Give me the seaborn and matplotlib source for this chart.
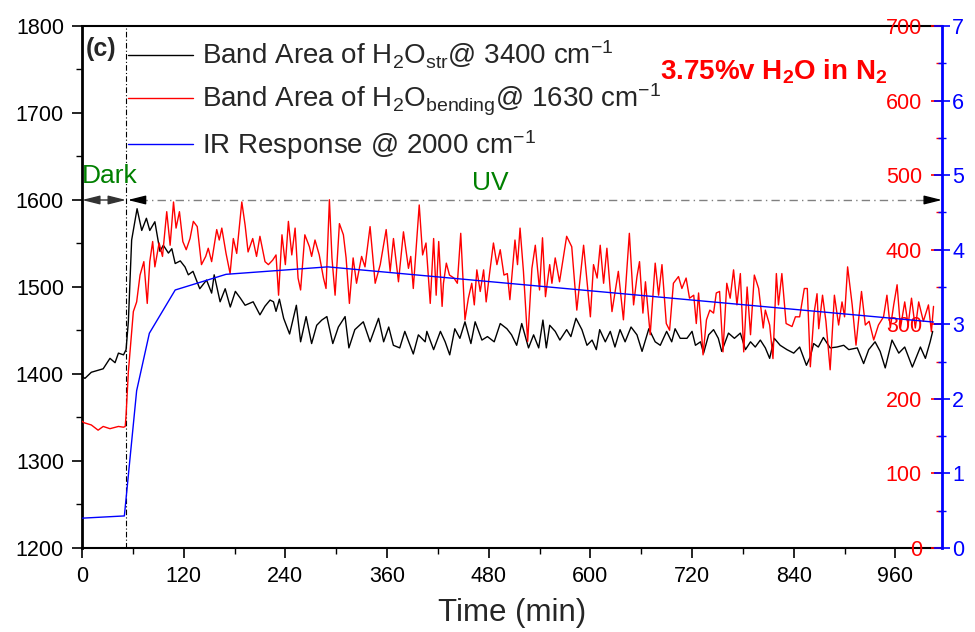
import matplotlib
matplotlib.use("Agg")
import matplotlib.pyplot as plt
import seaborn as sns
import numpy as np
import pandas as pd
from matplotlib.ticker import MultipleLocator

# ---------------- data ----------------
# Band area of H2O stretching @ 3400 cm-1 (left axis)
str_t = [0, 3.5, 11, 18, 25, 33, 39, 43, 49, 52, 54.7, 58.6, 65, 70.5, 76, 80, 86, 92, 96, 102,
         106, 110, 116, 121.6, 125.5, 131, 139, 147, 153, 156, 163, 169, 175, 181, 187, 192.5, 202, 210, 216, 222,
         226, 229, 233, 238, 245, 253, 258, 264.5, 271, 277, 283, 289, 296, 302.6, 310.5, 315, 322, 332, 340, 350,
         356, 362, 367.5, 375, 381, 391, 397, 405, 407, 415, 423, 428.6, 434, 440, 446, 452, 459, 464, 472, 478.5,
         486.5, 493.6, 501.5, 507, 513, 519, 527, 533, 539, 544, 548, 552, 558.5, 564, 572, 577, 583, 590, 596, 602,
         607, 611, 617.6, 623.5, 629, 635, 641, 648, 655, 661, 669, 676.5, 682.5, 690, 696, 700, 706, 714, 720, 724,
         730, 733.6, 739.6, 745.4, 751, 755, 763, 770, 777, 783, 789, 794.6, 800.6, 806.5, 811.6, 817, 824, 832, 840, 847,
         855, 859.6, 863.5, 869, 875, 883, 891, 899, 905, 915, 922.5, 928.5, 936, 942, 948, 956, 964, 971, 980, 989.5,
         995.4, 1001, 1004]
str_v = [1397, 1395, 1402, 1404, 1406, 1418, 1413, 1424, 1422, 1428, 1460, 1554, 1590, 1565, 1579, 1565, 1575, 1541, 1548, 1539,
         1544, 1527, 1530, 1523, 1514, 1518, 1498, 1508, 1493, 1514, 1483, 1498, 1477, 1495, 1487, 1479, 1483, 1468, 1478, 1485,
         1483, 1472, 1486, 1464, 1446, 1479, 1437, 1466, 1435, 1456, 1462, 1466, 1435, 1454, 1466, 1430, 1451, 1460, 1437, 1464,
         1437, 1454, 1433, 1430, 1449, 1423, 1445, 1437, 1449, 1428, 1449, 1437, 1422, 1452, 1441, 1460, 1435, 1460, 1439, 1443,
         1437, 1458, 1452, 1445, 1433, 1458, 1430, 1445, 1430, 1462, 1430, 1456, 1449, 1439, 1451, 1443, 1464, 1451, 1433, 1439,
         1428, 1451, 1437, 1449, 1431, 1451, 1437, 1454, 1445, 1426, 1452, 1437, 1433, 1449, 1437, 1452, 1441, 1441, 1449, 1433,
         1437, 1424, 1445, 1451, 1441, 1426, 1447, 1441, 1447, 1428, 1437, 1431, 1439, 1430, 1418, 1441, 1433, 1428, 1424, 1431,
         1410, 1420, 1435, 1431, 1442, 1430, 1431, 1433, 1428, 1430, 1412, 1428, 1437, 1426, 1407, 1439, 1424, 1431, 1408, 1431,
         1418, 1437, 1449]

# Band area of H2O bending @ 1630 cm-1 (red axis)
bend_t = [0, 2.4, 11, 19, 25, 33, 43, 49, 51, 52, 54.7, 60.6, 64.5, 68.5, 73, 77, 80, 83.4, 86, 91,
          95, 100, 104, 108, 111, 115, 119, 123, 127.5, 131.4, 136, 141, 146, 149, 153, 159, 162, 165, 170, 174.8,
          178.6, 182.6, 188.6, 192.5, 196, 201.5, 206, 210, 216, 220, 225, 229, 232, 236, 240, 243.6, 247.6, 251.5, 255, 258,
          263, 268.4, 271, 275, 280, 285, 288, 292, 295, 298.7, 303.8, 308.5, 311.7, 315.6, 320, 324, 330, 334, 340, 346,
          352, 359, 363.7, 367.6, 373.5, 379.4, 385.3, 388, 391, 398, 402, 406, 411, 415, 418, 421, 425, 426.6, 430, 433.7,
          439, 443, 447, 452, 456, 460, 463, 466, 470, 474, 477, 481, 485.6, 489.7, 493.6, 498, 502, 505, 511, 514,
          517, 521, 526, 531, 535, 540, 543.5, 547, 552, 554.6, 558.5, 563.6, 572, 578, 584, 592, 600, 603.7, 608, 611.6,
          615.6, 619.5, 625.5, 633, 639, 646, 651, 655, 658, 662, 665, 670.6, 676.5, 680.5, 684.5, 689.6, 693.5, 698, 704, 708,
          713, 717, 722, 725, 727.7, 733, 737, 741, 745.4, 748.6, 752.5, 756.5, 761, 765, 769, 773, 777, 781, 785, 789,
          793.5, 798.6, 804, 806.5, 811.6, 815.5, 819.5, 822, 826, 831, 838, 842, 847, 852.5, 856, 859.6, 864, 867.5, 869.5, 874,
          878, 883, 888, 893, 897, 900, 903.6, 909, 913.5, 920, 924.5, 929, 934.4, 940, 946, 950, 954, 958, 962, 966,
          971, 975, 979, 983.5, 987.5, 993, 999, 1002.5, 1005]
bend_v = [170, 168, 165, 158, 163, 160, 163, 162, 163, 178, 236, 317, 330, 366, 384, 328, 384, 411, 377, 409,
          391, 451, 406, 464, 429, 451, 411, 400, 415, 438, 431, 380, 391, 402, 384, 427, 413, 429, 395, 368,
          415, 395, 464, 433, 397, 415, 391, 418, 384, 380, 386, 393, 339, 420, 380, 438, 393, 429, 362, 346,
          420, 404, 391, 413, 393, 362, 348, 467, 389, 339, 435, 420, 389, 328, 389, 355, 391, 377, 431, 355,
          380, 427, 371, 415, 357, 424, 375, 391, 348, 460, 393, 409, 328, 415, 339, 411, 324, 355, 382, 366,
          362, 355, 422, 306, 335, 355, 326, 373, 344, 373, 330, 368, 409, 380, 400, 366, 368, 333, 413, 380,
          429, 371, 277, 375, 406, 346, 416, 337, 380, 355, 389, 357, 418, 404, 319, 406, 310, 380, 362, 406,
          355, 402, 317, 371, 306, 422, 326, 364, 384, 315, 357, 286, 382, 339, 380, 301, 292, 355, 364, 348,
          362, 335, 339, 301, 342, 259, 306, 319, 315, 342, 344, 263, 355, 335, 373, 326, 368, 263, 350, 286,
          366, 348, 295, 319, 299, 254, 368, 326, 368, 301, 297, 310, 310, 348, 348, 243, 315, 341, 294, 339,
          304, 239, 339, 299, 330, 310, 377, 326, 272, 344, 299, 304, 279, 299, 310, 339, 295, 326, 353, 295,
          330, 299, 335, 295, 330, 304, 326, 290, 324]

# IR response @ 2000 cm-1 (blue axis)
ir_t = [0, 50, 64.5, 79.5, 110, 170, 290, 1005]
ir_v = [0.40, 0.43, 2.11, 2.88, 3.46, 3.67, 3.77, 3.03]

labels = ["Band Area of H$_2$O$_{\\mathrm{str}}$@ 3400 cm$^{-1}$",
          "Band Area of H$_2$O$_{\\mathrm{bending}}$@ 1630 cm$^{-1}$",
          "IR Response @ 2000 cm$^{-1}$"]
x_ticks = [0, 120, 240, 360, 480, 600, 720, 840, 960]
uv_on = 52

# ---------------- style ----------------
sns.set_style("ticks")
plt.rcParams["font.family"] = ["Liberation Sans", "DejaVu Sans"]
plt.rcParams["mathtext.fontset"] = "custom"
plt.rcParams["mathtext.rm"] = "Liberation Sans"
plt.rcParams["mathtext.it"] = "Liberation Sans:italic"
plt.rcParams["mathtext.bf"] = "Liberation Sans:bold"

fig = plt.figure(figsize=(9.75, 6.32), dpi=100)
ax = fig.add_axes([82 / 975, 1 - 548 / 632, 860 / 975, 522 / 632])
ax2 = ax.twinx()
ax3 = ax.twinx()

df_s = pd.DataFrame({"t": str_t, "v": str_v})
df_b = pd.DataFrame({"t": bend_t, "v": bend_v})
df_i = pd.DataFrame({"t": ir_t, "v": ir_v})
sns.lineplot(data=df_s, x="t", y="v", ax=ax, color="black", lw=1.0, sort=False, estimator=None)
sns.lineplot(data=df_b, x="t", y="v", ax=ax2, color="red", lw=1.0, sort=False, estimator=None)
sns.lineplot(data=df_i, x="t", y="v", ax=ax3, color="blue", lw=1.0, sort=False, estimator=None)

for a in (ax, ax2, ax3):
    a.set_xlabel("")
    a.set_ylabel("")
    a.set_xlim(0, 1015)

ax.set_ylim(1200, 1800)
ax2.set_ylim(0, 700)
ax3.set_ylim(0, 7)

ax.set_xticks(x_ticks)
ax.xaxis.set_minor_locator(MultipleLocator(60))
ax.yaxis.set_major_locator(MultipleLocator(100))
ax.yaxis.set_minor_locator(MultipleLocator(50))
ax2.yaxis.set_major_locator(MultipleLocator(100))
ax2.yaxis.set_minor_locator(MultipleLocator(50))
ax3.yaxis.set_major_locator(MultipleLocator(1))
ax3.yaxis.set_minor_locator(MultipleLocator(0.5))

ax.tick_params(axis="both", which="major", direction="out", length=7, width=1.2, labelsize=15.5, pad=6, colors="black")
ax.tick_params(axis="both", which="minor", direction="out", length=4, width=1.0, colors="black")
ax.tick_params(top=False, right=False, which="both")

ax2.tick_params(axis="y", which="major", direction="in", length=8, width=1.2, colors="red", labelsize=15.5, pad=-14.5)
ax2.tick_params(axis="y", which="minor", direction="in", length=4, width=1.0, colors="red")
for lab in ax2.yaxis.get_majorticklabels():
    lab.set_horizontalalignment("right")

ax3.tick_params(axis="y", which="major", direction="inout", length=11.5, width=1.2, colors="blue", labelsize=15.5, pad=1.5)
ax3.tick_params(axis="y", which="minor", direction="inout", length=6, width=1.0, colors="blue")

for s in ("top", "bottom", "left", "right"):
    ax2.spines[s].set_visible(False)
for s in ("top", "bottom", "left"):
    ax3.spines[s].set_visible(False)
ax3.spines["right"].set_color("blue")
ax3.spines["right"].set_linewidth(2)
ax.spines["left"].set_linewidth(2)
ax.spines["bottom"].set_linewidth(1.5)
ax.spines["top"].set_linewidth(1.5)
ax.spines["right"].set_visible(False)
for s in ("left", "bottom", "top"):
    ax.spines[s].set_color("black")

ax.set_xlabel("Time (min)", fontsize=22.5, labelpad=8)

# UV switch-on marker and arrows
ax.axvline(uv_on, color="black", lw=0.8, ls=(0, (5, 2, 1, 2)))
ax.annotate("", xy=(0, 1600), xytext=(uv_on, 1600),
            arrowprops=dict(arrowstyle="<|-|>,head_length=0.6,head_width=0.15", color="#333333",
                            lw=1.0, mutation_scale=18, shrinkA=0, shrinkB=0))
ax.plot([uv_on + 15, 1000], [1600, 1600], color="gray", lw=1.0, ls=(0, (6, 3, 1, 3)))
ax.annotate("", xy=(uv_on + 2, 1600), xytext=(uv_on + 20, 1600),
            arrowprops=dict(arrowstyle="-|>,head_length=0.6,head_width=0.15", color="black",
                            lw=1.0, mutation_scale=18, shrinkA=0, shrinkB=0))
ax.annotate("", xy=(1015, 1600), xytext=(995, 1600),
            arrowprops=dict(arrowstyle="-|>,head_length=0.6,head_width=0.15", color="black",
                            lw=1.0, mutation_scale=18, shrinkA=0, shrinkB=0))
ax.text(33, 1628, "Dark", color="green", fontsize=19, ha="center", va="center")
ax.text(482, 1620, "UV", color="green", fontsize=19, ha="center", va="center")

ax.text(0.004, 0.955, "(c)", transform=ax.transAxes, fontsize=18, fontweight="bold", va="center", ha="left")
ax.text(0.672, 0.912, "3.75%v H$_\\mathbf{2}$O in N$_\\mathbf{2}$", transform=ax.transAxes,
        color="red", fontsize=20, fontweight="bold", va="center", ha="left")

handles = [ax.lines[0], ax2.lines[0], ax3.lines[0]]
ax3.legend(handles, labels, loc="upper left", bbox_to_anchor=(0.0535, 0.975), frameon=False,
           fontsize=20, handlelength=2.35, handletextpad=0.33, labelspacing=0.37,
           borderaxespad=0, borderpad=0)

fig.savefig("out.png", dpi=100)
